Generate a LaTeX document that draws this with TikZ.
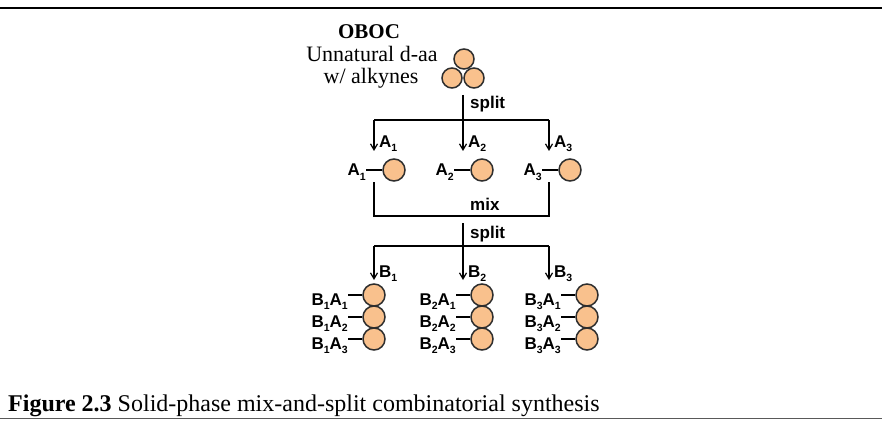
\documentclass[tikz,border=0pt]{standalone}
\usepackage{fontspec}
\setmainfont{Liberation Serif}
\newfontfamily\labfont{Liberation Sans}
\usetikzlibrary{arrows.meta}
\definecolor{bead}{HTML}{F9C18D}
\definecolor{beadline}{HTML}{2E2E2E}
% small lowered index used in the A/B labels
\newcommand\lsub[1]{\raisebox{-0.28em}{\fontsize{10.5}{10.5}\selectfont#1}}

\tikzset{
  bead/.style={circle, draw=beadline, fill=bead, line width=1.5pt,
               minimum size=22pt, inner sep=0pt},
  tag/.style={font=\labfont\bfseries\fontsize{17}{19}\selectfont, inner sep=0pt},
  link/.style={line width=1.2pt},
  drop/.style={line width=1.2pt, -{Straight Barb[length=6pt,width=7pt]}},
  serif/.style={font=\fontsize{22}{24}\selectfont, inner sep=0pt},
}

\begin{document}
\begin{tikzpicture}[x=1pt,y=-1pt]
\useasboundingbox (0,0) rectangle (882,422);

% page rules
\draw[line width=1.1pt] (0,8) -- (882,8);
\draw[line width=1.8pt, black!65] (0,418.5) -- (882,418.5);

% library description
\node[inner sep=0pt, font=\bfseries\fontsize{21}{23}\selectfont, anchor=base] (oboc) at (369,39) {OBOC};
\node[serif, anchor=base] (unnat) at (372,62) {Unnatural d-aa};
\node[serif, anchor=base] (alk) at (371,84) {w/ alkynes};

% starting resin beads
\node[bead, minimum size=20pt] (t1) at (464,59) {};
\node[bead, minimum size=20pt] (t2) at (452,78) {};
\node[bead, minimum size=20pt] (t3) at (474,78) {};

% first split
\coordinate (s1top) at (463,95);
\coordinate (j2) at (463,120);
\coordinate (j1) at (374,120);
\coordinate (j3) at (549,120);
\draw[link] (s1top) -- (j2);
\draw[link] (j1) -- (j3);
\node[tag, anchor=base west] (split1) at (470,109) {split};

\foreach \i/\ax/\cx in {1/374/394, 2/463/482, 3/549/570} {
  \coordinate (ahead\i) at (\ax,151);
  \draw[drop] (j\i) -- (ahead\i);
  \node[tag, anchor=base west] (atag\i) at ({\ax+5},147) {A\lsub{\i}};
  \node[bead] (abead\i) at (\cx,170) {};
  \node[tag, anchor=base east] (alab\i) at ({\cx-28},175.5) {A\lsub{\i}};
  \draw[link] (alab\i.east |- abead\i.west) -- (abead\i.west);
}

% mix
\coordinate (m1) at (374,182);
\coordinate (m2) at (374,216);
\coordinate (m3) at (549,216);
\coordinate (m4) at (549,182);
\draw[link] (m1) -- (m2) -- (m3) -- (m4);
\node[tag, anchor=base west] (mix) at (470,210) {mix};

% second split
\coordinate (s2top) at (463,223);
\coordinate (k2) at (463,246);
\coordinate (k1) at (374,246);
\coordinate (k3) at (549,246);
\draw[link] (s2top) -- (k2);
\draw[link] (k1) -- (k3);
\node[tag, anchor=base west] (split2) at (470,238) {split};

\foreach \j/\ax in {1/374, 2/463, 3/549} {
  \coordinate (bhead\j) at (\ax,280);
  \draw[drop] (k\j) -- (bhead\j);
  \node[tag, anchor=base west] (btag\j) at ({\ax+5},277) {B\lsub{\j}};
}

% final bead columns
\foreach \j/\cx in {1/374, 2/482, 3/587} {
  \foreach \k/\cy in {1/295, 2/317, 3/339} {
    \node[bead] (b\j\k) at (\cx,\cy) {};
    \node[tag, anchor=base east] (bl\j\k) at ({\cx-26},{\cy+10}) {B\lsub{\j}A\lsub{\k}};
    \draw[link] (bl\j\k.east |- b\j\k.west) -- (b\j\k.west);
  }
}

% caption
\node[anchor=base west, inner sep=0pt, font=\fontsize{24}{26}\selectfont] (cap) at (8,411)
  {\textbf{Figure 2.3} Solid-phase mix-and-split combinatorial synthesis};
\end{tikzpicture}
\end{document}
